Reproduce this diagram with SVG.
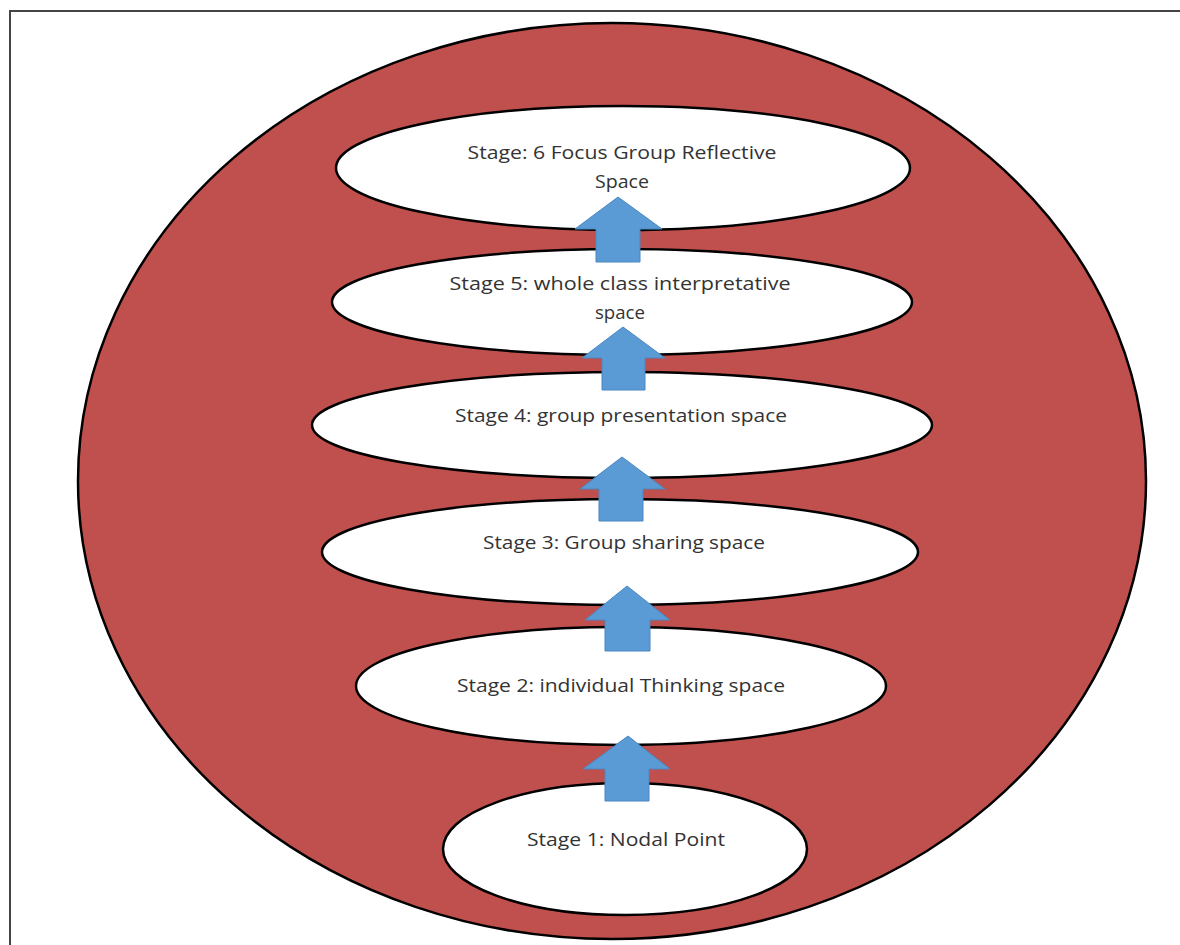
<svg xmlns="http://www.w3.org/2000/svg" width="1180" height="945" viewBox="0 0 1180 945">
<style>
.stage{fill:#ffffff;stroke:#000000;stroke-width:2.5}
.arrow{fill:#5B9BD5;stroke:#4A86C0;stroke-width:1}
.lbl{font-family:"Open Sans","Liberation Sans",sans-serif;font-size:18.5px;fill:#333333;text-anchor:middle}
</style>
<rect x="0" y="0" width="1180" height="945" fill="#ffffff"/>
<path d="M10 945 V11 H1180" fill="none" stroke="#444444" stroke-width="2"/>
<g id="outer">
<ellipse cx="612" cy="481" rx="534" ry="458" fill="#C0504D" stroke="#000000" stroke-width="2.5"/>
</g>
<g id="stage6"><ellipse class="stage" cx="623" cy="168" rx="287" ry="62"/>
<text class="lbl" x="622" y="159" textLength="309" lengthAdjust="spacingAndGlyphs">Stage: 6 Focus Group Reflective</text>
<text class="lbl" x="622" y="188" textLength="54" lengthAdjust="spacingAndGlyphs">Space</text></g>
<g id="stage5"><ellipse class="stage" cx="622" cy="302" rx="290" ry="53"/>
<text class="lbl" x="620" y="290" textLength="341" lengthAdjust="spacingAndGlyphs">Stage 5: whole class interpretative</text>
<text class="lbl" x="620" y="319" textLength="50" lengthAdjust="spacingAndGlyphs">space</text></g>
<g id="stage4"><ellipse class="stage" cx="622" cy="425" rx="310" ry="53"/>
<text class="lbl" x="621" y="422" textLength="332" lengthAdjust="spacingAndGlyphs">Stage 4: group presentation space</text></g>
<g id="stage3"><ellipse class="stage" cx="620" cy="552" rx="298" ry="53"/>
<text class="lbl" x="624" y="549" textLength="282" lengthAdjust="spacingAndGlyphs">Stage 3: Group sharing space</text></g>
<g id="stage2"><ellipse class="stage" cx="621" cy="686" rx="265" ry="59"/>
<text class="lbl" x="621" y="692" textLength="328" lengthAdjust="spacingAndGlyphs">Stage 2: individual Thinking space</text></g>
<g id="stage1"><ellipse class="stage" cx="625" cy="849" rx="182" ry="66"/>
<text class="lbl" x="626" y="846" textLength="198" lengthAdjust="spacingAndGlyphs">Stage 1: Nodal Point</text></g>
<g id="connectors">
<polygon class="arrow" points="618,197 662,229 640,229 640,262 596,262 596,229 575,229"/>
<polygon class="arrow" points="623,327 665,358 645,358 645,390 602,390 602,358 582,358"/>
<polygon class="arrow" points="622,457 665,489 643,489 643,521 599,521 599,489 580,489"/>
<polygon class="arrow" points="627,586 670,620 650,620 650,651 605,651 605,620 585,620"/>
<polygon class="arrow" points="628,736 670,769 649,769 649,801 605,801 605,769 583,769"/>
</g>
</svg>
